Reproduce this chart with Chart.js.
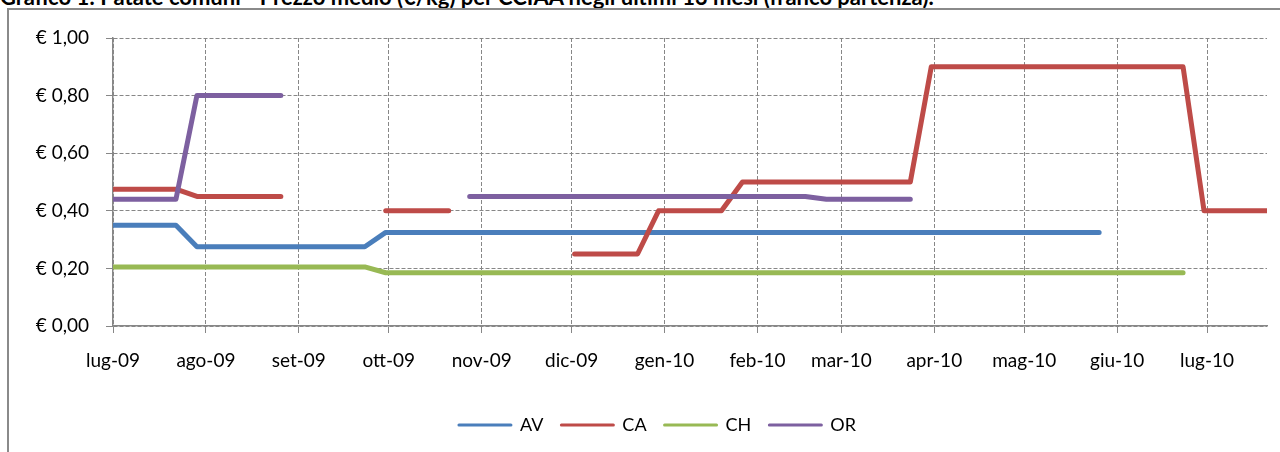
<!DOCTYPE html>
<html>
<head>
<meta charset="utf-8">
<script src="https://cdn.jsdelivr.net/npm/chart.js@4/dist/chart.umd.min.js"></script>
<style>
  html, body { margin: 0; padding: 0; background: #fff; overflow: hidden; }
  #wrap { position: relative; width: 1280px; height: 452px; overflow: hidden; }
  #title { position: absolute; left: 0; top: -14px; font: bold 22px Lato; line-height: 22px; white-space: nowrap; color: #000; }
  #frame { position: absolute; left: 7px; top: 8px; width: 1400px; height: 600px; border: 2px solid #8a8a8a; box-sizing: border-box; }
  canvas { position: absolute; left: 0; top: 0; }
</style>
</head>
<body>
<div id="wrap">
  <div id="title">Grafico 1: Patate comuni - Prezzo medio (€/kg) per CCIAA negli ultimi 13 mesi (franco partenza).</div>
  <div id="frame"></div>
  <canvas id="chart" width="1280" height="452"></canvas>
</div>
<script>
// weekly price dates
const weeks = [
  '2009-07-01', '2009-07-08', '2009-07-15', '2009-07-22', '2009-07-29',
  '2009-08-05', '2009-08-12', '2009-08-19', '2009-08-26',
  '2009-09-02', '2009-09-09', '2009-09-16', '2009-09-23', '2009-09-30',
  '2009-10-07', '2009-10-14', '2009-10-21', '2009-10-28',
  '2009-11-04', '2009-11-11', '2009-11-18', '2009-11-25',
  '2009-12-02', '2009-12-09', '2009-12-16', '2009-12-23', '2009-12-30',
  '2010-01-06', '2010-01-13', '2010-01-20', '2010-01-27',
  '2010-02-03', '2010-02-10', '2010-02-17', '2010-02-24',
  '2010-03-03', '2010-03-10', '2010-03-17', '2010-03-24', '2010-03-31',
  '2010-04-07', '2010-04-14', '2010-04-21', '2010-04-28',
  '2010-05-05', '2010-05-12', '2010-05-19', '2010-05-26',
  '2010-06-02', '2010-06-09', '2010-06-16', '2010-06-23', '2010-06-30',
  '2010-07-07', '2010-07-14', '2010-07-21'
];

const monthStarts = [
  '2009-07-01', '2009-08-01', '2009-09-01', '2009-10-01', '2009-11-01', '2009-12-01',
  '2010-01-01', '2010-02-01', '2010-03-01', '2010-04-01', '2010-05-01', '2010-06-01', '2010-07-01'
];
const monthLabels = ['lug-09', 'ago-09', 'set-09', 'ott-09', 'nov-09', 'dic-09',
  'gen-10', 'feb-10', 'mar-10', 'apr-10', 'mag-10', 'giu-10', 'lug-10'];

const seriesNames = ['AV', 'CA', 'CH', 'OR'];
const seriesColors = ['#4A7EBB', '#BE4B48', '#98B954', '#7D60A0'];

const avValues = [
  0.35, 0.35, 0.35, 0.35, 0.275,
  0.275, 0.275, 0.275, 0.275,
  0.275, 0.275, 0.275, 0.275, 0.325,
  0.325, 0.325, 0.325, 0.325,
  0.325, 0.325, 0.325, 0.325,
  0.325, 0.325, 0.325, 0.325, 0.325,
  0.325, 0.325, 0.325, 0.325,
  0.325, 0.325, 0.325, 0.325,
  0.325, 0.325, 0.325, 0.325, 0.325,
  0.325, 0.325, 0.325, 0.325,
  0.325, 0.325, 0.325, 0.325,
  null, null, null, null, null,
  null, null, null
];
const caValues = [
  0.475, 0.475, 0.475, 0.475, 0.45,
  0.45, 0.45, 0.45, 0.45,
  null, null, null, null, 0.40,
  0.40, 0.40, 0.40, null,
  null, null, null, null,
  0.25, 0.25, 0.25, 0.25, 0.40,
  0.40, 0.40, 0.40, 0.50,
  0.50, 0.50, 0.50, 0.50,
  0.50, 0.50, 0.50, 0.50, 0.90,
  0.90, 0.90, 0.90, 0.90,
  0.90, 0.90, 0.90, 0.90,
  0.90, 0.90, 0.90, 0.90, 0.40,
  0.40, 0.40, 0.40
];
const chValues = [
  0.205, 0.205, 0.205, 0.205, 0.205,
  0.205, 0.205, 0.205, 0.205,
  0.205, 0.205, 0.205, 0.205, 0.185,
  0.185, 0.185, 0.185, 0.185,
  0.185, 0.185, 0.185, 0.185,
  0.185, 0.185, 0.185, 0.185, 0.185,
  0.185, 0.185, 0.185, 0.185,
  0.185, 0.185, 0.185, 0.185,
  0.185, 0.185, 0.185, 0.185, 0.185,
  0.185, 0.185, 0.185, 0.185,
  0.185, 0.185, 0.185, 0.185,
  0.185, 0.185, 0.185, 0.185, null,
  null, null, null
];
const orValues = [
  0.44, 0.44, 0.44, 0.44, 0.80,
  0.80, 0.80, 0.80, 0.80,
  null, null, null, null, null,
  null, null, null, 0.45,
  0.45, 0.45, 0.45, 0.45,
  0.45, 0.45, 0.45, 0.45, 0.45,
  0.45, 0.45, 0.45, 0.45,
  0.45, 0.45, 0.45, 0.44,
  0.44, 0.44, 0.44, 0.44, null,
  null, null, null, null,
  null, null, null, null,
  null, null, null, null, null,
  null, null, null
];

const dayZero = Date.parse(weeks[0]);
const toDay = s => (Date.parse(s) - dayZero) / 86400000;
const weekDays = weeks.map(toDay);
const monthDays = monthStarts.map(toDay);

const allValues = [avValues, caValues, chValues, orValues];
const datasets = seriesNames.map((name, i) => ({
  label: name,
  data: allValues[i].map((v, k) => ({ x: weekDays[k], y: v })),
  borderColor: seriesColors[i],
  backgroundColor: seriesColors[i],
  order: seriesNames.length - i
}));

// the excel legend sits a bit right of centre
const legendShift = {
  id: 'legendShift',
  afterLayout(chart) {
    chart.legend.left += 9;
    chart.legend.right += 9;
  }
};

const gridColor = '#878787';
Chart.defaults.font.family = 'Lato';
Chart.defaults.font.size = 19;
Chart.defaults.color = '#000';

new Chart(document.getElementById('chart').getContext('2d'), {
  type: 'line',
  data: { datasets: datasets },
  plugins: [legendShift],
  options: {
    responsive: false,
    animation: false,
    layout: { padding: { left: 30, right: 13, top: 38, bottom: 8 } },
    elements: {
      point: { radius: 0 },
      line: { borderWidth: 5, borderCapStyle: 'round', borderJoinStyle: 'round', tension: 0 }
    },
    scales: {
      x: {
        type: 'linear',
        min: 0,
        max: weekDays[weekDays.length - 1],
        afterBuildTicks: s => { s.ticks = monthDays.map(v => ({ value: v })); },
        afterFit: s => { s.height = 72; },
        ticks: {
          autoSkip: false,
          maxRotation: 0,
          padding: 16,
          callback: (v, i) => monthLabels[i]
        },
        grid: { color: gridColor, lineWidth: 1, tickLength: 7, tickColor: gridColor },
        border: { color: gridColor, width: 1.5, dash: [4, 2] }
      },
      y: {
        min: 0,
        max: 1,
        afterFit: s => { s.width = 83; },
        ticks: {
          stepSize: 0.2,
          padding: 17,
          callback: v => '€ ' + v.toFixed(2).replace('.', ',')
        },
        grid: { color: gridColor, lineWidth: 1, tickLength: 7, tickColor: gridColor },
        border: { color: gridColor, width: 1.5, dash: [4, 2] }
      }
    },
    plugins: {
      tooltip: { enabled: false },
      legend: {
        position: 'bottom',
        labels: {
          font: { size: 18 },
          usePointStyle: true,
          pointStyle: 'line',
          pointStyleWidth: 52,
          padding: 18,
          sort: (a, b) => a.datasetIndex - b.datasetIndex,
          generateLabels: chart => Chart.defaults.plugins.legend.labels.generateLabels(chart)
            .map(item => Object.assign(item, { lineWidth: 3, lineCap: 'round' }))
        }
      }
    }
  }
});
</script>
</body>
</html>
